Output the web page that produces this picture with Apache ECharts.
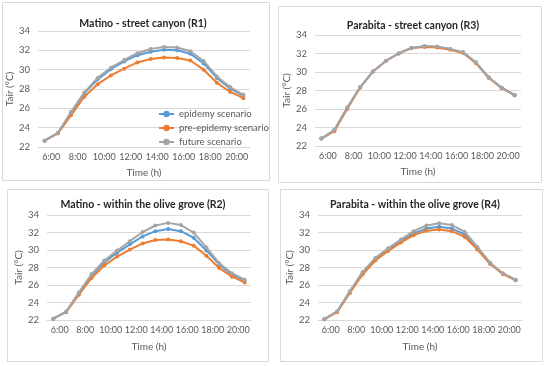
<!DOCTYPE html>
<html><head><meta charset="utf-8">
<script src="https://cdn.jsdelivr.net/npm/echarts@6/dist/echarts.min.js"></script>
<style>html,body{margin:0;padding:0;background:#fff}#c{width:550px;height:366px}</style>
</head><body><div id="c"></div>
<script>
var timeSlots = ['5:30','6:30','7:30','8:30','9:30','10:30','11:30','12:30','13:30','14:30','15:30','16:30','17:30','18:30','19:30','20:30'];
var tickLabels = ['6:00','8:00','10:00','12:00','14:00','16:00','18:00','20:00'];
var seriesNames = ['epidemy scenario','pre-epidemy scenario','future scenario'];
var panelTitles = ['Matino - street canyon (R1)','Parabita - street canyon (R3)','Matino - within the olive grove (R2)','Parabita - within the olive grove (R4)'];

var r1Epidemy = [22.65,23.45,25.55,27.55,29.0,30.05,30.85,31.5,31.85,32.05,32.0,31.65,30.65,29.15,28.05,27.3];
var r1Pre     = [22.65,23.4,25.3,27.2,28.5,29.4,30.1,30.75,31.1,31.25,31.2,30.95,30.0,28.65,27.7,27.05];
var r1Future  = [22.65,23.45,25.65,27.65,29.15,30.2,31.0,31.7,32.15,32.35,32.3,31.9,30.9,29.3,28.2,27.4];

var r3Epidemy = [22.8,23.7,26.1,28.35,30.05,31.2,32.0,32.6,32.75,32.7,32.45,32.1,31.0,29.4,28.3,27.5];
var r3Pre     = [22.8,23.6,26.0,28.3,30.05,31.2,32.0,32.6,32.7,32.65,32.4,32.05,30.95,29.35,28.25,27.5];
var r3Future  = [22.8,23.75,26.15,28.35,30.05,31.2,32.0,32.6,32.8,32.75,32.5,32.15,31.05,29.4,28.3,27.5];

var r2Epidemy = [22.15,22.95,25.05,27.1,28.6,29.7,30.65,31.55,32.15,32.4,32.15,31.4,29.95,28.35,27.2,26.5];
var r2Pre     = [22.15,22.9,24.9,26.8,28.25,29.25,30.05,30.75,31.15,31.2,31.0,30.5,29.35,27.95,26.95,26.3];
var r2Future  = [22.15,22.95,25.15,27.25,28.8,29.95,31.0,32.05,32.8,33.1,32.85,32.0,30.3,28.5,27.35,26.6];

var r4Epidemy = [22.1,22.95,25.2,27.35,28.95,30.05,31.0,31.9,32.45,32.65,32.45,31.8,30.2,28.45,27.3,26.55];
var r4Pre     = [22.1,22.9,25.1,27.2,28.8,29.9,30.85,31.7,32.2,32.35,32.15,31.5,30.05,28.4,27.25,26.55];
var r4Future  = [22.1,23.0,25.3,27.5,29.1,30.2,31.2,32.15,32.8,33.05,32.85,32.1,30.35,28.55,27.35,26.6];

var panelData = [[r1Epidemy,r1Pre,r1Future],[r3Epidemy,r3Pre,r3Future],[r2Epidemy,r2Pre,r2Future],[r4Epidemy,r4Pre,r4Future]];

var colors = ['#5B9BD5','#ED7D31','#A5A5A5'];
var FONT = 'Lato, "Liberation Sans", sans-serif';
var grids = [
  {left:38, top:31, width:212, height:116},
  {left:315, top:35, width:206, height:111},
  {left:47, top:215, width:204, height:105},
  {left:318, top:215, width:204, height:105}
];
var boxes = [
  {x:2,y:2,w:267,h:178},
  {x:278,y:6,w:263,h:176},
  {x:7,y:189,w:261,h:172},
  {x:280,y:189,w:262,h:172}
];
var titlePos = [[138,13],[408,15],[138,194],[410,194]];
var yNameGap = [15,18,18,15];

var option = {
  animation:false,
  color: colors,
  title: [], grid: [], xAxis: [], yAxis: [], series: [],
  legend: {
    data: seriesNames, orient:'vertical', left:153, top:104, itemGap:4,
    itemWidth:15, itemHeight:8,
    textStyle:{fontFamily:FONT, fontSize:9.5, color:'#595959'}
  },
  graphic: []
};

for (var p = 0; p < 4; p++) {
  var g = grids[p];
  option.grid.push({left:g.left, top:g.top, width:g.width, height:g.height});
  var b = boxes[p];
  option.graphic.push({type:'rect', shape:{x:b.x+0.5,y:b.y+0.5,width:b.w,height:b.h}, style:{fill:'none', stroke:'#D9D9D9', lineWidth:1}, z:-1});
  option.title.push({text: panelTitles[p], left: titlePos[p][0], top: titlePos[p][1], textAlign:'center',
    textStyle:{fontFamily:FONT, fontSize:10.5, fontWeight:'bold', color:'#262626'}});
  option.xAxis.push({type:'category', gridIndex:p, data: timeSlots, boundaryGap:true,
    axisLine:{show:false}, axisTick:{show:false}, axisLabel:{show:false}, splitLine:{show:false}});
  option.xAxis.push({type:'category', gridIndex:p, data: tickLabels, boundaryGap:true, position:'bottom',
    axisLine:{show:true, lineStyle:{color:'#D9D9D9', width:1}}, axisTick:{show:false},
    axisLabel:{interval:0, fontFamily:FONT, fontSize:9, color:'#595959', margin:6},
    name:'Time (h)', nameLocation:'middle', nameGap:(p<2?21:22),
    nameTextStyle:{fontFamily:FONT, fontSize:10, color:'#595959'}});
  option.yAxis.push({type:'value', gridIndex:p, min:22, max:34, interval:2,
    axisLine:{show:false}, axisTick:{show:false},
    axisLabel:{fontFamily:FONT, fontSize:9.5, color:'#595959', margin:8},
    splitLine:{lineStyle:{color:'#D9D9D9', width:1}},
    name:'Tair (°C)', nameLocation:'middle', nameRotate:90, nameGap:yNameGap[p],
    nameTextStyle:{fontFamily:FONT, fontSize:10, color:'#595959'}});
  for (var s = 0; s < 3; s++) {
    option.series.push({type:'line', name: seriesNames[s], xAxisIndex: p*2, yAxisIndex: p,
      data: panelData[p][s], symbol:'circle', symbolSize:4, showSymbol:true,
      lineStyle:{width:2, color:colors[s]}, itemStyle:{color:colors[s]}, z: 2+s});
  }
}
var chart = echarts.init(document.getElementById('c'));
chart.setOption(option);
</script></body></html>
